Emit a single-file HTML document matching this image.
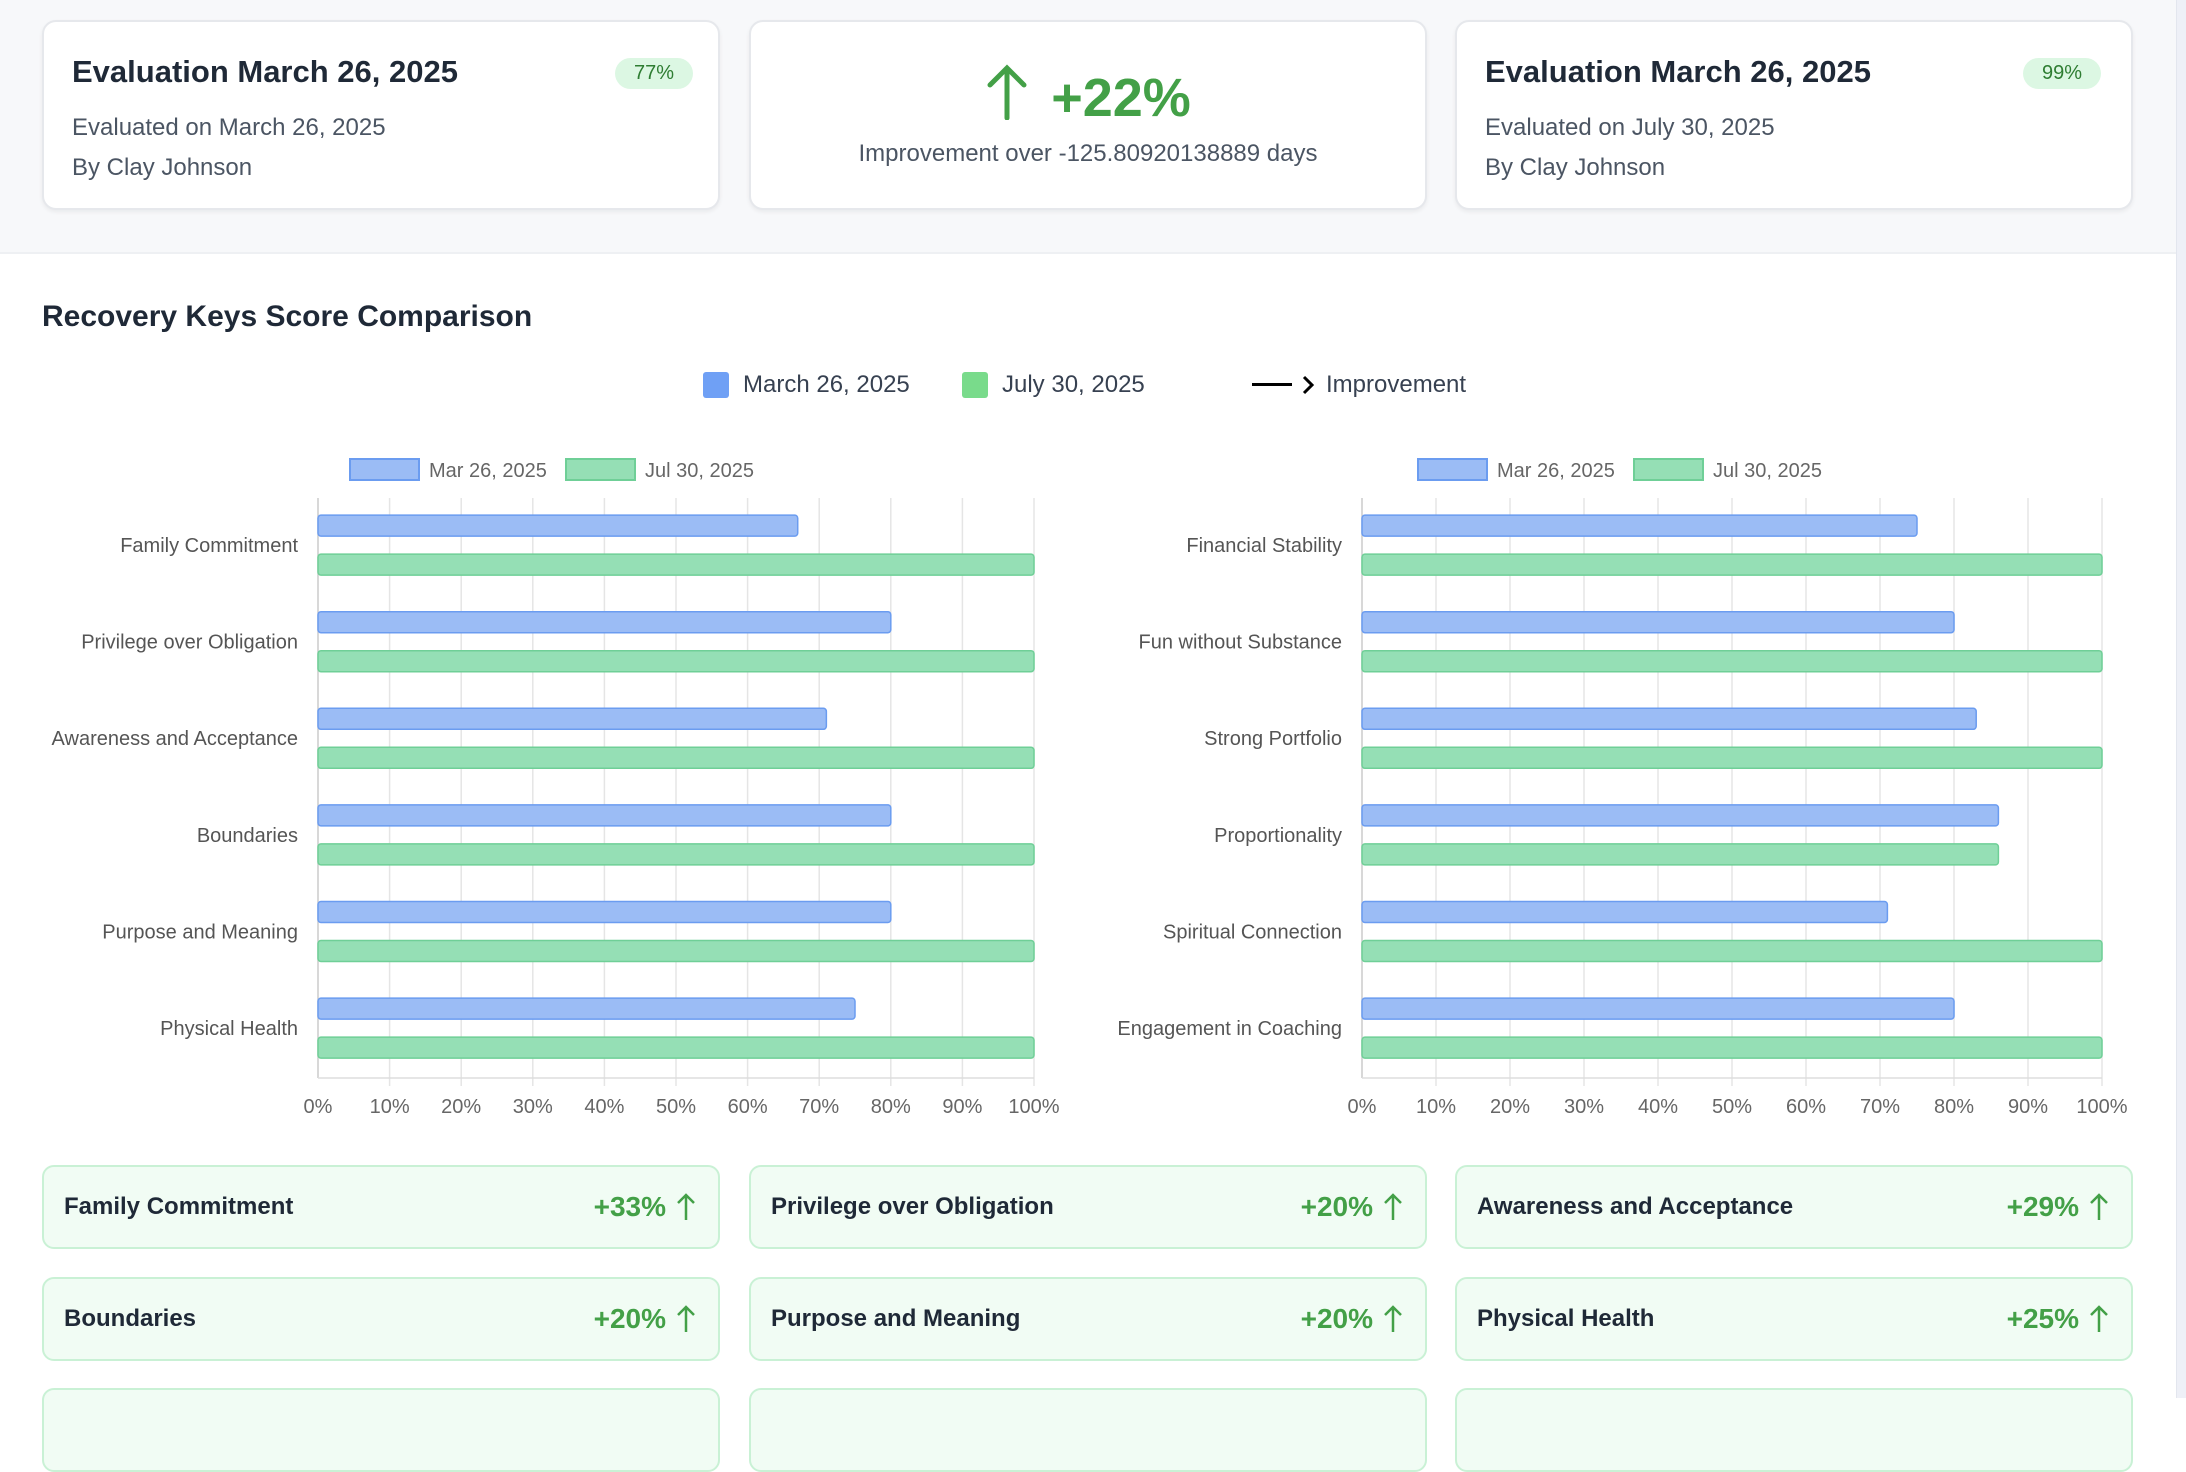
<!DOCTYPE html>
<html><head><meta charset="utf-8"><style>
*{margin:0;padding:0;box-sizing:border-box}
body{width:2186px;height:1398px;overflow:hidden;background:#fff;font-family:"Liberation Sans",sans-serif;position:relative;color:#1f2937}
.top{position:absolute;left:0;top:0;width:2176px;height:254px;background:#f7f8fa;border-bottom:2px solid #eef0f3}
.sb{position:absolute;left:2176px;top:0;width:10px;height:1398px;background:#eef0f7;border-left:1px solid #e3e6ee}
.card{position:absolute;top:20px;height:190px;width:678px;background:#fff;border:2px solid #e6e8ec;border-radius:14px;box-shadow:0 2px 4px rgba(0,0,0,.06)}
.t{position:absolute;left:28px;top:32px;font-size:31px;font-weight:bold;color:#1f2937}
.s{position:absolute;left:28px;font-size:24px;color:#4b5563}
.badge{position:absolute;top:36px;width:78px;height:31px;border-radius:16px;background:#dcf7e3;color:#2e7d32;font-size:20px;text-align:center;line-height:31px}
.k{position:absolute;width:678px;height:84px;background:#f1fcf4;border:2px solid #c9f1d5;border-radius:12px}
.k .n{position:absolute;left:20px;top:26px;font-size:24px;font-weight:bold;color:#1f2937}
.k .p{position:absolute;right:52px;top:24px;font-size:28px;font-weight:bold;color:#43a047}
.k svg{position:absolute;right:22px;top:26px}
</style></head><body>
<div class="top"></div><div class="sb"></div>
<div class="card" style="left:42px"><div class="t">Evaluation March 26, 2025</div><div class="badge" style="left:571px">77%</div><div class="s" style="top:92px">Evaluated on March 26, 2025</div><div class="s" style="top:132px">By Clay Johnson</div></div>
<div class="card" style="left:749px"><div style="position:absolute;left:0;width:100%;top:42px;text-align:center;font-size:54px;font-weight:bold;color:#43a047"><svg width="44" height="56" viewBox="0 0 44 56" style="vertical-align:-4px;margin-right:22px"><path d="M22 54V4M5 21L22 4L39 21" fill="none" stroke="#43a047" stroke-width="5" stroke-linecap="round"/></svg>+22%</div><div style="position:absolute;left:0;width:100%;top:118px;text-align:center;font-size:24px;color:#4b5563">Improvement over -125.80920138889 days</div></div>
<div class="card" style="left:1455px"><div class="t">Evaluation March 26, 2025</div><div class="badge" style="left:566px">99%</div><div class="s" style="top:92px">Evaluated on July 30, 2025</div><div class="s" style="top:132px">By Clay Johnson</div></div>
<div style="position:absolute;left:42px;top:300px;font-size:30px;font-weight:bold;color:#1f2937">Recovery Keys Score Comparison</div>
<div style="position:absolute;left:703px;top:372px;width:26px;height:26px;background:#6fa0f5;border-radius:3px"></div>
<div style="position:absolute;left:743px;top:371px;font-size:24px;color:#374151">March 26, 2025</div>
<div style="position:absolute;left:962px;top:372px;width:26px;height:26px;background:#79db8b;border-radius:3px"></div>
<div style="position:absolute;left:1002px;top:371px;font-size:24px;color:#374151">July 30, 2025</div>
<div style="position:absolute;left:1252px;top:383px;width:40px;height:3px;background:#000"></div>
<svg style="position:absolute;left:1301px;top:375px" width="14" height="20"><path d="M3 2L11 10L3 18" fill="none" stroke="#000" stroke-width="3"/></svg>
<div style="position:absolute;left:1326px;top:371px;font-size:24px;color:#374151">Improvement</div>
<svg id="main" style="position:absolute;left:0;top:0" width="2186" height="1398" font-family="Liberation Sans, sans-serif"></svg>
<div class="k" style="left:42px;top:1165px"><div class="n">Family Commitment</div><div class="p">+33%</div><svg width="20" height="28"><path d="M10 27V2M2 10L10 2L18 10" fill="none" stroke="#43a047" stroke-width="2.5"/></svg></div>
<div class="k" style="left:749px;top:1165px"><div class="n">Privilege over Obligation</div><div class="p">+20%</div><svg width="20" height="28"><path d="M10 27V2M2 10L10 2L18 10" fill="none" stroke="#43a047" stroke-width="2.5"/></svg></div>
<div class="k" style="left:1455px;top:1165px"><div class="n">Awareness and Acceptance</div><div class="p">+29%</div><svg width="20" height="28"><path d="M10 27V2M2 10L10 2L18 10" fill="none" stroke="#43a047" stroke-width="2.5"/></svg></div>
<div class="k" style="left:42px;top:1277px"><div class="n">Boundaries</div><div class="p">+20%</div><svg width="20" height="28"><path d="M10 27V2M2 10L10 2L18 10" fill="none" stroke="#43a047" stroke-width="2.5"/></svg></div>
<div class="k" style="left:749px;top:1277px"><div class="n">Purpose and Meaning</div><div class="p">+20%</div><svg width="20" height="28"><path d="M10 27V2M2 10L10 2L18 10" fill="none" stroke="#43a047" stroke-width="2.5"/></svg></div>
<div class="k" style="left:1455px;top:1277px"><div class="n">Physical Health</div><div class="p">+25%</div><svg width="20" height="28"><path d="M10 27V2M2 10L10 2L18 10" fill="none" stroke="#43a047" stroke-width="2.5"/></svg></div>
<div class="k" style="left:42px;top:1388px"></div>
<div class="k" style="left:749px;top:1388px"></div>
<div class="k" style="left:1455px;top:1388px"></div>
<script>
(function(){
var NS="http://www.w3.org/2000/svg",svg=document.getElementById("main");
function el(t,a,txt){var e=document.createElementNS(NS,t);for(var k in a)e.setAttribute(k,a[k]);if(txt!=null)e.textContent=txt;svg.appendChild(e);return e;}
function chart(x0,x1,lx,labels,a,b,legX){
 var w=(x1-x0)/10;
 for(var i=0;i<=10;i++){var x=x0+i*w;el("line",{x1:x,y1:498,x2:x,y2:1078+(i==0?0:8),stroke:i==0?"#ccc":"#e5e5e5","stroke-width":1.5});
  el("text",{x:x,y:1113,"text-anchor":"middle","font-size":20,fill:"#666"},i*10+"%");}
 el("line",{x1:x0,y1:1078,x2:x1,y2:1078,stroke:"#ddd","stroke-width":1.5});
 for(var r=0;r<6;r++){var by=525.6+96.6*r,gy=564.6+96.6*r;
  el("rect",{x:x0,y:by-10.5,width:(a[r]/100)*(x1-x0),height:21,rx:3,fill:"#9bbcf5",stroke:"#6b9cf0","stroke-width":1.5});
  el("rect",{x:x0,y:gy-10.5,width:(b[r]/100)*(x1-x0),height:21,rx:3,fill:"#95dfb5",stroke:"#6fcf97","stroke-width":1.5});
  el("text",{x:lx,y:552+96.6*r,"text-anchor":"end","font-size":20,fill:"#555"},labels[r]);}
 el("rect",{x:legX,y:459,width:69,height:21,fill:"#9bbcf5",stroke:"#6b9cf0","stroke-width":2});
 el("text",{x:legX+79,y:477,"font-size":20,fill:"#666"},"Mar 26, 2025");
 el("rect",{x:legX+216,y:459,width:69,height:21,fill:"#95dfb5",stroke:"#6fcf97","stroke-width":2});
 el("text",{x:legX+295,y:477,"font-size":20,fill:"#666"},"Jul 30, 2025");
}
chart(318,1034,298,["Family Commitment","Privilege over Obligation","Awareness and Acceptance","Boundaries","Purpose and Meaning","Physical Health"],[67,80,71,80,80,75],[100,100,100,100,100,100],350);
chart(1362,2102,1342,["Financial Stability","Fun without Substance","Strong Portfolio","Proportionality","Spiritual Connection","Engagement in Coaching"],[75,80,83,86,71,80],[100,100,100,86,100,100],1418);
})();
</script>
</body></html>
